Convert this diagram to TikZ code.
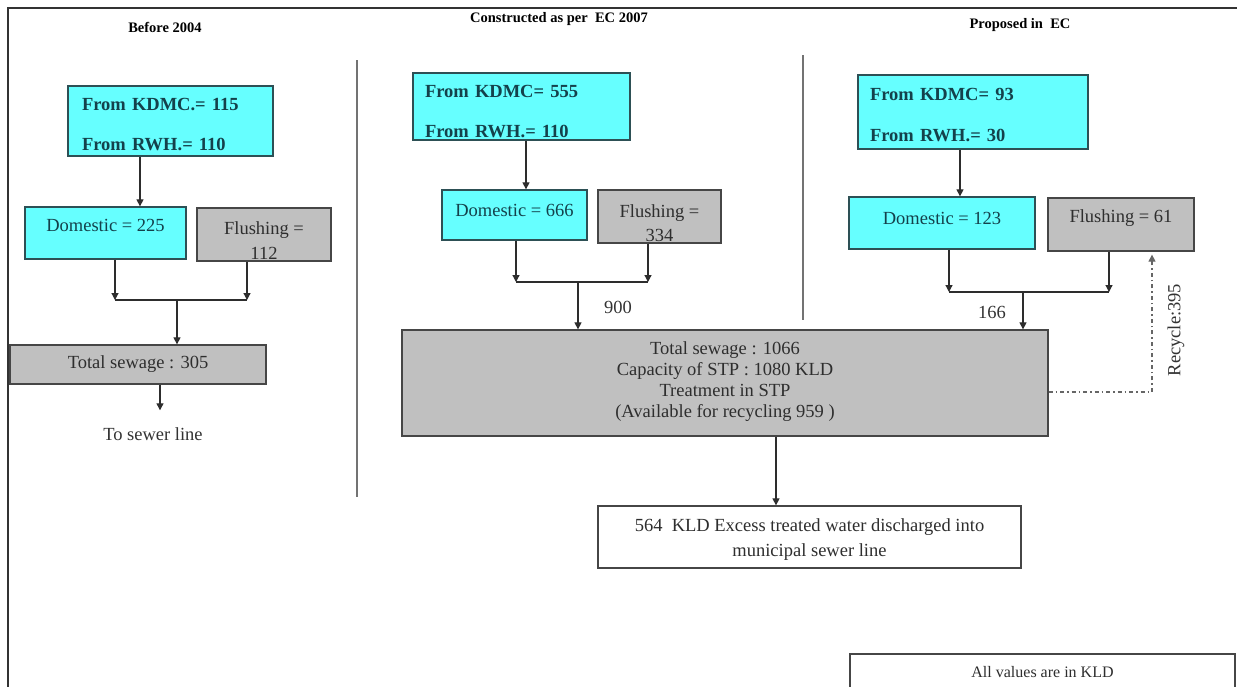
\documentclass[tikz,border=0pt]{standalone}
\usepackage{fontspec}
\setmainfont{Liberation Serif}
\usetikzlibrary{arrows.meta}
\definecolor{cyfill}{RGB}{102,255,255}
\definecolor{cybord}{RGB}{45,80,85}
\definecolor{gyfill}{RGB}{192,192,192}
\definecolor{gybord}{RGB}{70,70,70}
\definecolor{cytext}{RGB}{20,65,75}
\definecolor{lncol}{RGB}{45,45,45}
\newcommand{\bodyfnt}{\fontsize{18.5}{21}\selectfont}
\newcommand{\smallfnt}{\fontsize{16}{19}\selectfont}
\newcommand{\titlefnt}{\fontsize{14.5}{17}\selectfont\bfseries}
\begin{document}
\begin{tikzpicture}[x=1pt,y=-1pt,
  box/.style={rectangle, line width=1.3pt, inner sep=0pt},
  cybox/.style={box, draw=cybord, fill=cyfill},
  gybox/.style={box, draw=gybord, fill=gyfill},
  wbox/.style={box, draw=gybord, fill=white},
  ctxt/.style={font=\bodyfnt, inner sep=0pt, align=center, text=cytext},
  stxt/.style={font=\bodyfnt\bfseries, inner sep=0pt, align=left, text=cytext},
  gtxt/.style={font=\bodyfnt, inner sep=0pt, align=center, text=black!82},
  ttl/.style={font=\titlefnt, inner sep=0pt},
  lbl/.style={font=\bodyfnt, text=black!80, inner sep=0pt},
  conn/.style={draw=lncol, line width=1.2pt},
  arr/.style={conn, -{Triangle[length=7pt,width=7pt]}},
  dsh/.style={draw=black!60, line width=1.2pt, dash pattern=on 4pt off 3pt on 1.5pt off 3pt, -{Triangle[length=7pt,width=7pt]}},
  divider/.style={draw=black!55, line width=1.6pt},
  frame/.style={draw=black!80, line width=2pt},
]
\useasboundingbox (0,0) rectangle (1237,686);
\fill[white] (0,0) rectangle (1237,686);

% frame and dividers
\draw[frame] (8,692) -- (8,8) -- (1242,8);
\draw[divider] (357,60) -- (357,497);
\draw[divider] (803,55) -- (803,320);

% titles
\node[ttl] (t1) at (165,27) {Before 2004};
\node[ttl] (t2) at (559,19) {Constructed as per\ \ EC 2007};
\node[ttl] (t3) at (1020,25) {Proposed in\ \ EC};

% left column
\node[cybox, minimum width=205pt, minimum height=70pt,
  label={[stxt, text width=177pt, yshift=-4pt]center:{From KDMC.= 115\\[19pt]From RWH.= 110}}] (src1) at (170.5,121) {};
\node[cybox, minimum width=161pt, minimum height=52pt,
  label={[ctxt, yshift=8pt]center:{Domestic = 225}}] (dom1) at (105.5,233) {};
\node[gybox, minimum width=134pt, minimum height=53pt,
  label={[gtxt, yshift=-6pt]center:{Flushing =\\[4pt]112}}] (fl1) at (264,234.5) {};
\node[gybox, minimum width=256pt, minimum height=39pt,
  label={[gtxt]center:{Total sewage : 305}}] (tot1) at (138,364.5) {};
\node[lbl] (sewer) at (153,434) {To sewer line};

% middle column
\node[cybox, minimum width=217pt, minimum height=67pt,
  label={[stxt, text width=193pt, yshift=-5.5pt]center:{From KDMC= 555\\[19pt]From RWH.= 110}}] (src2) at (521.5,106.5) {};
\node[cybox, minimum width=145pt, minimum height=50pt,
  label={[ctxt, yshift=5pt]center:{Domestic = 666}}] (dom2) at (514.5,215) {};
\node[gybox, minimum width=123pt, minimum height=53pt,
  label={[gtxt, yshift=-6.5pt]center:{Flushing =\\[3pt]334}}] (fl2) at (659.5,216.5) {};
\node[lbl] (n900) at (618,307) {900};

% right column
\node[cybox, minimum width=230pt, minimum height=74pt,
  label={[stxt, text width=206pt, yshift=-3.5pt]center:{From KDMC= 93\\[20pt]From RWH.= 30}}] (src3) at (973,112) {};
\node[cybox, minimum width=186pt, minimum height=52pt,
  label={[ctxt, yshift=5pt]center:{Domestic = 123}}] (dom3) at (942,223) {};
\node[gybox, minimum width=146pt, minimum height=53pt,
  label={[gtxt, yshift=6.5pt]center:{Flushing = 61}}] (fl3) at (1121,224.5) {};
\node[lbl] (n166) at (992,312) {166};

% STP and discharge
\node[gybox, minimum width=646pt, minimum height=106pt,
  label={[gtxt, yshift=1pt]center:{Total sewage : 1066\\Capacity of STP : 1080 KLD\\Treatment in STP\\(Available\ for recycling 959 )}}] (tot2) at (725,383) {};
\node[wbox, minimum width=423pt, minimum height=62pt,
  label={[gtxt, yshift=-2.5pt]center:{564\ \ KLD Excess treated water discharged into\\[4pt]municipal sewer line}}] (bot) at (809.5,537) {};
\node[lbl, rotate=90] (rlab) at (1176,330) {Recycle:395};
\node[wbox, minimum width=385pt, minimum height=38pt,
  label={[gtxt, font=\smallfnt, yshift=1pt]center:{All values are in KLD}}] (note) at (1042.5,673) {};

% connectors, left
\coordinate (a1) at (140,0);
\draw[arr] (a1 |- src1.south) -- (a1 |- dom1.north);
\coordinate (j1l) at (115,300);
\coordinate (j1r) at (247,300);
\coordinate (j1m) at (177,300);
\draw[arr] (dom1.south -| j1l) -- (j1l);
\draw[arr] (fl1.south -| j1r) -- (j1r);
\draw[conn] (j1l) -- (j1r);
\draw[arr] (j1m) -- (j1m |- tot1.north);
\coordinate (a2) at (160,0);
\coordinate (sewtop) at ([yshift=17pt]sewer.north);
\draw[arr] (a2 |- tot1.south) -- (a2 |- sewtop);

% connectors, middle
\coordinate (a3) at (526,0);
\draw[arr] (a3 |- src2.south) -- (a3 |- dom2.north);
\coordinate (j2l) at (516,282);
\coordinate (j2r) at (648,282);
\coordinate (j2m) at (578,282);
\draw[arr] (dom2.south -| j2l) -- (j2l);
\draw[arr] (fl2.south -| j2r) -- (j2r);
\draw[conn] (j2l) -- (j2r);
\draw[arr] (j2m) -- (j2m |- tot2.north);

% connectors, right
\coordinate (a4) at (960,0);
\draw[arr] (a4 |- src3.south) -- (a4 |- dom3.north);
\coordinate (j3l) at (949,292);
\coordinate (j3r) at (1109,292);
\coordinate (j3m) at (1023,292);
\draw[arr] (dom3.south -| j3l) -- (j3l);
\draw[arr] (fl3.south -| j3r) -- (j3r);
\draw[conn] (j3l) -- (j3r);
\draw[arr] (j3m) -- (j3m |- tot2.north);

% discharge and recycle
\coordinate (a5) at (776,0);
\draw[arr] (a5 |- tot2.south) -- (a5 |- bot.north);
\coordinate (rc) at (1152,392);
\draw[dsh] (tot2.east |- rc) -- (rc) -- ([yshift=-3pt]rc |- fl3.south);
\end{tikzpicture}
\end{document}
